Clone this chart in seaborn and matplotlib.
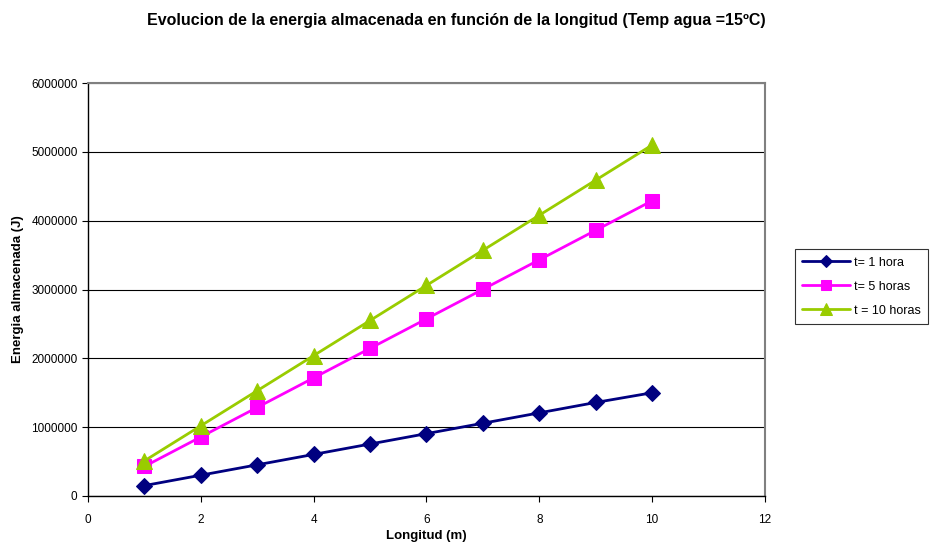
import matplotlib
matplotlib.use("Agg")
import matplotlib.pyplot as plt
import seaborn as sns
import pandas as pd

longitud = [1, 2, 3, 4, 5, 6, 7, 8, 9, 10]
t1 = [151000, 302000, 453000, 604000, 755000, 906000, 1057000, 1208000, 1359000, 1500000]
t5 = [429000, 858000, 1287000, 1716000, 2145000, 2574000, 3003000, 3432000, 3861000, 4290000]
t10 = [510000, 1020000, 1530000, 2040000, 2550000, 3060000, 3570000, 4080000, 4590000, 5100000]
series_names = ["t= 1 hora", "t= 5 horas", "t = 10 horas"]
colors = ["#000080", "#FF00FF", "#99CC00"]
markers = ["D", "s", "^"]
msizes = [8, 10, 11]

sns.set_style("white")
plt.rcParams['font.family'] = ['Liberation Sans', 'DejaVu Sans']
plt.rcParams['text.color'] = 'black'
plt.rcParams['axes.labelcolor'] = 'black'

fig = plt.figure(figsize=(9.32, 5.43), dpi=100)
ax = fig.add_axes([0.0944, 0.0866, 0.7264, 0.7604])

for name, vals, c, m, ms in zip(series_names, [t1, t5, t10], colors, markers, msizes):
    df = pd.DataFrame({"x": longitud, "y": vals})
    sns.lineplot(data=df, x="x", y="y", ax=ax, color=c, marker=m, markersize=ms,
                 markeredgecolor=c, linewidth=2, label=name)

ax.set_xlim(0, 12)
ax.set_ylim(0, 6000000)
ax.set_xticks(range(0, 13, 2))
ax.set_yticks(range(0, 6000001, 1000000))
ax.yaxis.grid(True, color="black", linewidth=0.8)
ax.xaxis.grid(False)
for s in ["left", "bottom"]:
    ax.spines[s].set_color("black")
    ax.spines[s].set_linewidth(1)
for s in ["top", "right"]:
    ax.spines[s].set_color("#808080")
    ax.spines[s].set_linewidth(1.5)
ax.tick_params(axis="both", which="both", direction="out", length=4, width=0.8,
               colors="black", labelsize=8.5, left=True, bottom=True)
ax.tick_params(axis="x", pad=9)
ax.ticklabel_format(style="plain", axis="y")

ax.set_xlabel("Longitud (m)", fontsize=9.5, fontweight="bold", labelpad=3, color="black")
ax.set_ylabel("Energia almacenada (J)", fontsize=9.5, fontweight="bold", labelpad=5, color="black")
fig.text(0.49, 0.962, "Evolucion de la energia almacenada en función de la longitud (Temp agua =15ºC)",
         fontsize=11.5, fontweight="bold", color="black", ha="center", va="center")

leg = ax.legend(loc="center left", bbox_to_anchor=(0.853, 0.472), bbox_transform=fig.transFigure,
                frameon=True, fancybox=False, fontsize=9, borderpad=0.6, labelspacing=0.95,
                handlelength=3.8, handletextpad=0.3, borderaxespad=0, markerscale=0.75)
leg.get_frame().set_edgecolor("black")
leg.get_frame().set_linewidth(0.8)

fig.savefig("out.png", dpi=100)
